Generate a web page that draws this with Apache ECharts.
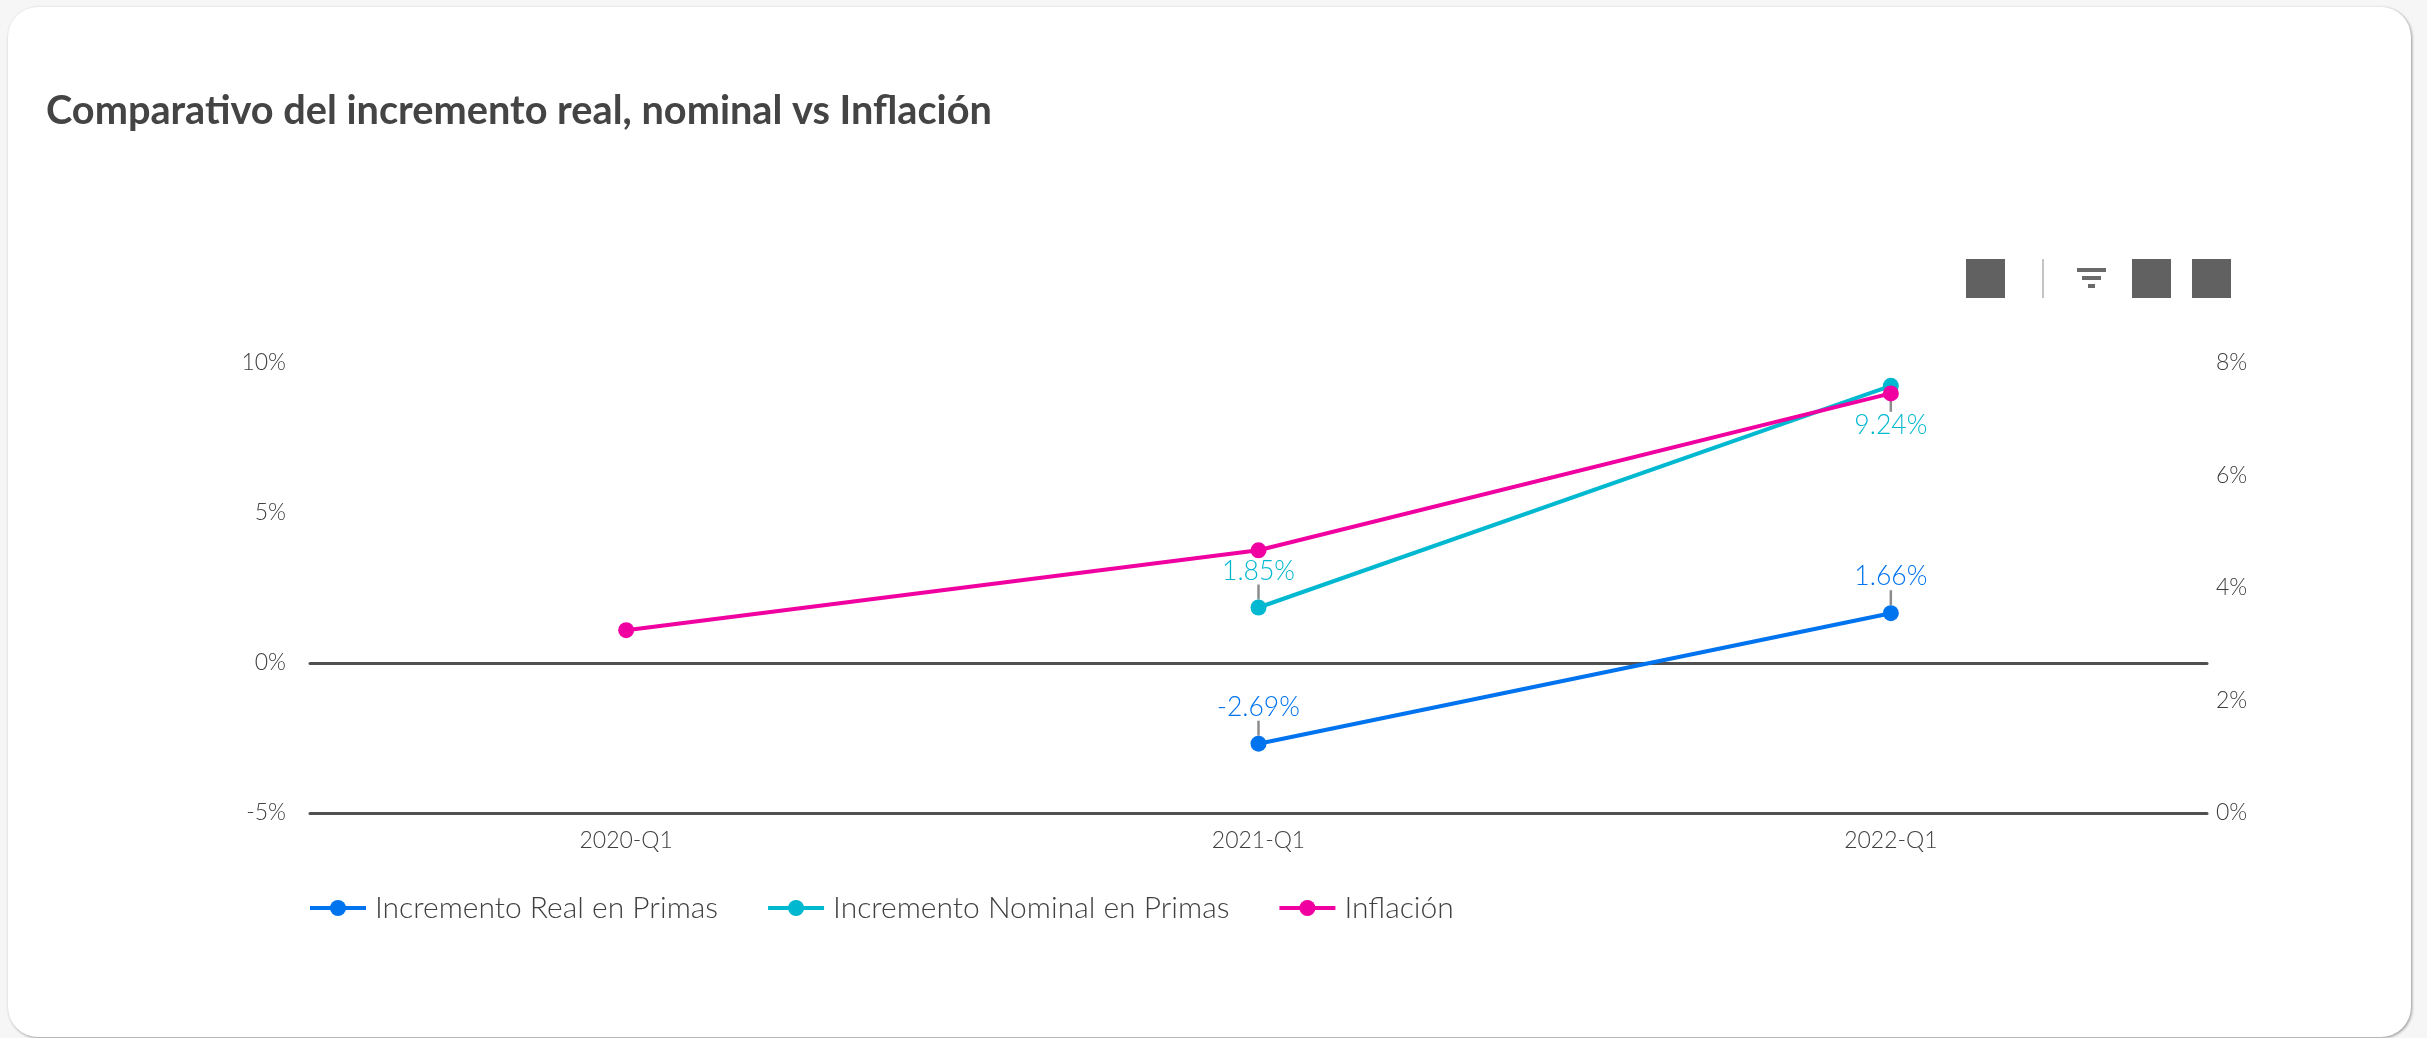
<!DOCTYPE html>
<html><head><meta charset="utf-8">
<script src="https://cdn.jsdelivr.net/npm/echarts@6/dist/echarts.min.js"></script>
<style>
html,body{margin:0;padding:0;width:2427px;height:1038px;background:#f6f6f6;overflow:hidden}
#card{position:absolute;left:8px;top:7px;width:2403px;height:1030px;background:#fff;border-radius:30px;box-shadow:1px 1px 3px rgba(0,0,0,.4)}
#c{position:absolute;left:0;top:0;width:2427px;height:1038px}
</style></head><body>
<div id="card"></div><div id="c"></div>
<script>
const titleText = 'Comparativo del incremento real, nominal vs Inflación';
const categories = ['2020-Q1','2021-Q1','2022-Q1'];
const realValues = [null,-2.69,1.66];
const nominalValues = [null,1.85,9.24];
const inflationValues = [3.25,4.67,7.46];
const leftTicks = {min:-5,max:10,interval:5};
const rightTicks = {min:0,max:8,interval:2};
const FONT = 'Lato';
const TXT = '#404040', AXIS='#505050';
const chart = echarts.init(document.getElementById('c'),null,{renderer:'canvas'});
function line(name,data,color,yIdx,extra){
  return Object.assign({name,type:'line',data,yAxisIndex:yIdx,connectNulls:false,symbol:'circle',symbolSize:16,
    lineStyle:{color,width:4},itemStyle:{color},smooth:false,z:3},extra||{});
}
const tick = {show:true,lineStyle:{color:'#8c8c8c',width:2.5}};
chart.setOption({
  animation:false,
  title:{text:titleText,left:41,top:86,textStyle:{fontFamily:'Lato',fontWeight:700,fontSize:39.7,color:'#444444'}},
  grid:{left:310,right:220,top:363,height:450},
  legend:{left:303,top:888,itemWidth:56,itemHeight:20,itemGap:48,
    lineStyle:{width:4},
    textStyle:{fontFamily:FONT,fontWeight:300,fontSize:30,color:TXT,padding:[0,0,0,4]},
    data:['Incremento Real en Primas','Incremento Nominal en Primas','Inflación']},
  xAxis:[
    {type:'category',data:categories,position:'bottom',axisLine:{onZero:false,lineStyle:{color:AXIS,width:3}},axisTick:{show:false},
     axisLabel:{color:TXT,fontFamily:FONT,fontWeight:300,fontSize:23,margin:16}},
    {type:'category',data:categories,position:'bottom',axisLine:{onZero:true,onZeroAxisIndex:0,lineStyle:{color:AXIS,width:3}},axisTick:{show:false},axisLabel:{show:false}}
  ],
  yAxis:[
    {type:'value',min:leftTicks.min,max:leftTicks.max,interval:leftTicks.interval,splitLine:{show:false},axisLine:{show:false},axisTick:{show:false},
     axisLabel:{formatter:'{value}%',color:TXT,fontFamily:FONT,fontWeight:300,fontSize:23,margin:24}},
    {type:'value',min:rightTicks.min,max:rightTicks.max,interval:rightTicks.interval,position:'right',splitLine:{show:false},axisLine:{show:false},axisTick:{show:false},
     axisLabel:{formatter:'{value}%',color:TXT,fontFamily:FONT,fontWeight:300,fontSize:23,margin:9}}
  ],
  series:[
    line('Incremento Real en Primas',realValues,'#0073ee',0,{label:{show:true,position:'top',color:'#0073ee',fontFamily:FONT,fontWeight:300,fontSize:26.5,formatter:p=>p.value+'%'},
       labelLayout:{dy:-10},labelLine:tick}),
    line('Incremento Nominal en Primas',nominalValues,'#00b8d0',0,{label:{show:true,position:'top',color:'#00b8d0',fontFamily:FONT,fontWeight:300,fontSize:26.5,formatter:p=>p.value+'%'},
       labelLayout:p=>({dy:p.dataIndex===2?66:-10}),labelLine:tick}),
    line('Inflación',inflationValues,'#f000a0',1)
  ],
  graphic:[
    {type:'rect',shape:{x:1966,y:259,width:39,height:39},style:{fill:'#616161'}},
    {type:'rect',shape:{x:2042,y:259,width:2,height:39},style:{fill:'#c4c4c4'}},
    {type:'rect',shape:{x:2077,y:268,width:29,height:4},style:{fill:'#6a6a6a'}},
    {type:'rect',shape:{x:2082,y:276,width:19,height:4},style:{fill:'#6a6a6a'}},
    {type:'rect',shape:{x:2088,y:284,width:7,height:4},style:{fill:'#6a6a6a'}},
    {type:'rect',shape:{x:2132,y:259,width:39,height:39},style:{fill:'#616161'}},
    {type:'rect',shape:{x:2192,y:259,width:39,height:39},style:{fill:'#616161'}}
  ]
});
</script></body></html>
